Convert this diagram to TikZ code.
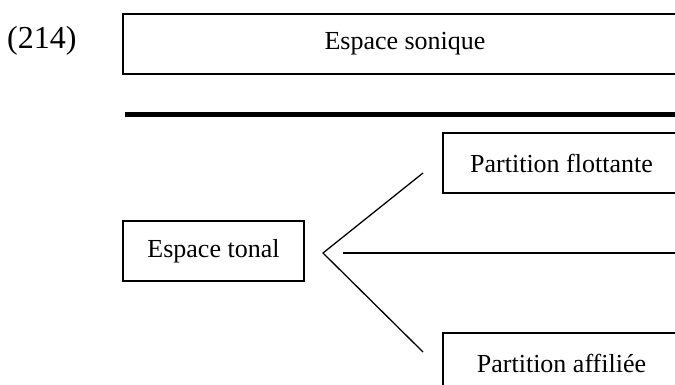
\documentclass[tikz,border=0pt]{standalone}
\usepackage{fontspec}
\setmainfont{Liberation Serif}
\begin{document}
\begin{tikzpicture}[x=1pt,y=-1pt,
  box/.style={draw=black,line width=1.4pt,inner sep=0pt,
    minimum height=60pt,font=\fontsize{26}{30}\selectfont},
  conn/.style={draw=black,line width=1.3pt}]
\useasboundingbox (0,0) rectangle (675,385);
\clip (0,0) rectangle (675,385);
\node[anchor=west,font=\fontsize{32}{36}\selectfont,inner sep=0pt] (num) at (7,41) {(214)};
\node[box,minimum width=564pt] (sonique) at (405,44) {Espace sonique};
\coordinate (barL) at (125,115);
\coordinate (barR) at (700,115);
\draw[line width=5pt] (barL) -- (barR);
\node[box,minimum width=181pt] (tonal) at (213.5,251) {Espace tonal};
\node[box,minimum width=237pt] (flot) at (561.5,163) {Partition flottante};
\node[box,minimum width=237pt] (aff) at (561.5,363) {Partition affiliée};
\coordinate (apex) at (323,253);
\coordinate (upEnd) at (423,173);
\coordinate (loEnd) at (423,352);
\coordinate (midL) at (343,253);
\coordinate (midR) at (700,253);
\draw[conn,line join=miter] (upEnd) -- (apex) -- (loEnd);
\draw[conn] (midL) -- (midR);
\end{tikzpicture}
\end{document}
